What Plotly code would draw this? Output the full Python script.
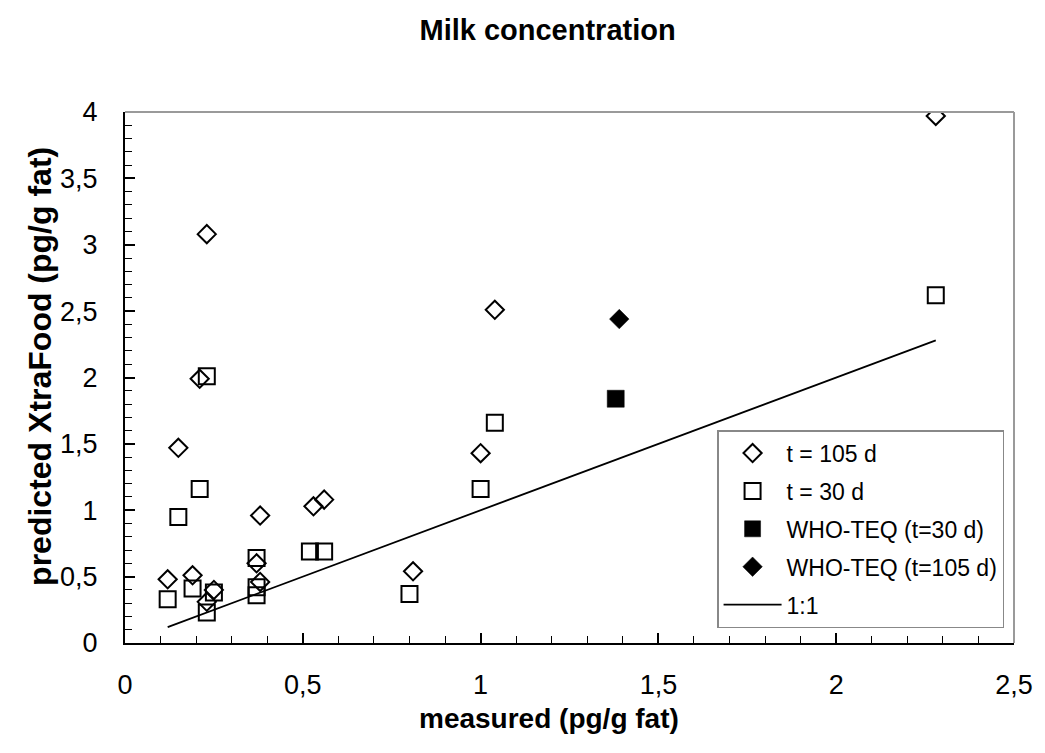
import plotly.graph_objects as go

# ---- data ----
t105_x = [0.12, 0.15, 0.19, 0.21, 0.23, 0.23, 0.25, 0.37, 0.38, 0.38, 0.53, 0.56, 0.81, 1.00, 1.04, 2.28]
t105_y = [0.48, 1.47, 0.51, 1.99, 3.08, 0.31, 0.40, 0.60, 0.46, 0.96, 1.03, 1.08, 0.54, 1.43, 2.51, 3.97]

t30_x = [0.12, 0.15, 0.19, 0.21, 0.23, 0.23, 0.25, 0.37, 0.37, 0.37, 0.52, 0.56, 0.80, 1.00, 1.04, 2.28]
t30_y = [0.33, 0.95, 0.41, 1.16, 2.01, 0.23, 0.38, 0.64, 0.42, 0.36, 0.69, 0.69, 0.37, 1.16, 1.66, 2.62]

teq30_x = [1.38]
teq30_y = [1.84]
teq105_x = [1.39]
teq105_y = [2.44]

line_x = [0.12, 2.28]
line_y = [0.12, 2.28]

names = ["t = 105 d", "t = 30 d", "WHO-TEQ (t=30 d)", "WHO-TEQ (t=105 d)", "1:1"]

FONT = "Arial, Liberation Sans, sans-serif"

fig = go.Figure()
fig.add_trace(go.Scatter(x=t105_x, y=t105_y, mode="markers", name=names[0], legendgroup="a",
                         marker=dict(symbol="diamond-open", size=14, color="black",
                                     line=dict(width=2, color="black"))))
fig.add_trace(go.Scatter(x=t30_x, y=t30_y, mode="markers", name=names[1], legendgroup="b",
                         marker=dict(symbol="square-open", size=16, color="black",
                                     line=dict(width=2, color="black"))))
fig.add_trace(go.Scatter(x=teq30_x, y=teq30_y, mode="markers", name=names[2], legendgroup="c",
                         marker=dict(symbol="square", size=17, color="black",
                                     line=dict(width=0.5, color="black"))))
fig.add_trace(go.Scatter(x=teq105_x, y=teq105_y, mode="markers", name=names[3], legendgroup="d",
                         marker=dict(symbol="diamond", size=15, color="black",
                                     line=dict(width=0.5, color="black"))))
fig.add_trace(go.Scatter(x=line_x, y=line_y, mode="lines", name=names[4], legendgroup="e",
                         line=dict(color="black", width=1.8)))

axis_common = dict(
    showline=True, linecolor="black", linewidth=2,
    showgrid=False, zeroline=False,
    ticks="inside", ticklen=10, tickwidth=1.5, tickcolor="black",
    tickfont=dict(family=FONT, size=27, color="black"),
)

fig.update_xaxes(range=[0, 2.5], dtick=0.5, tick0=0, ticklabelstandoff=17,
                 minor=dict(dtick=0.1, ticks="inside", ticklen=7, tickwidth=1.2, tickcolor="black", showgrid=False),
                 **axis_common)
fig.update_yaxes(range=[0, 4], dtick=0.5, tick0=0, ticklabelstandoff=20,
                 minor=dict(dtick=0.1, ticks="inside", ticklen=7, tickwidth=1.2, tickcolor="black", showgrid=False),
                 **axis_common)

# gray frame on top and right
fig.add_shape(type="line", xref="x domain", yref="y domain", x0=0, x1=1, y0=1, y1=1,
              line=dict(color="#9a9a9a", width=2))
fig.add_shape(type="line", xref="x domain", yref="y domain", x0=1, x1=1, y0=0, y1=1,
              line=dict(color="#9a9a9a", width=2))

fig.add_annotation(text="<b>measured (pg/g fat)</b>", xref="paper", yref="paper",
                   x=0.477, y=0, yshift=-75, xanchor="center", yanchor="middle", showarrow=False,
                   font=dict(family=FONT, size=28, color="black"))
fig.add_annotation(text="<b>predicted XtraFood (pg/g fat)</b>", xref="paper", yref="paper",
                   x=0, xshift=-85, y=0.52, xanchor="center", yanchor="middle", showarrow=False,
                   textangle=-90, font=dict(family=FONT, size=32, color="black"))

fig.update_layout(
    width=1045, height=753,
    margin=dict(l=125, r=22, t=112, b=110),
    paper_bgcolor="white", plot_bgcolor="white",
    separators=",.",
    title=dict(text="<b>Milk concentration</b>", x=0.524, xanchor="center",
               y=1 - 30 / 753, yanchor="middle",
               font=dict(family=FONT, size=29, color="black")),
    showlegend=True,
    legend=dict(x=0.666, y=0.401, xanchor="left", yanchor="top",
                bgcolor="white", bordercolor="#888888", borderwidth=1.5,
                font=dict(family=FONT, size=23, color="black"),
                itemwidth=58,
                traceorder="grouped", tracegroupgap=5),
)

fig.write_html("out.html")
